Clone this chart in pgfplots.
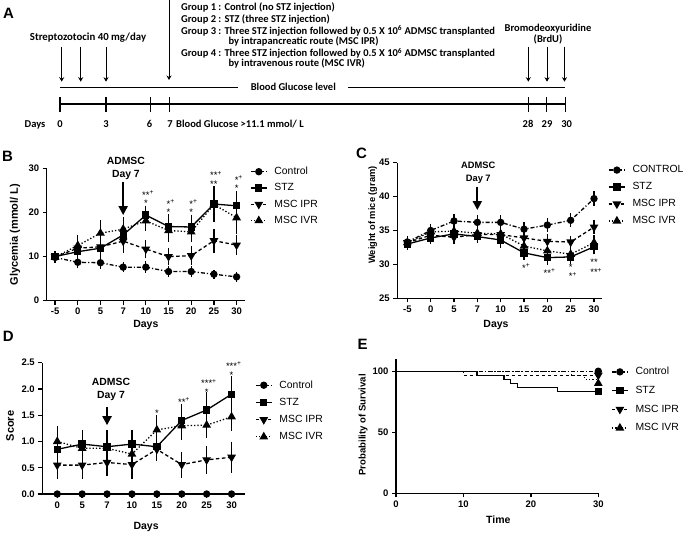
\documentclass[border=0pt]{standalone}
\usepackage{pgfplots}
\pgfplotsset{compat=1.18}
\usepackage{fontspec}
\setmainfont{Liberation Sans}
\newfontfamily\calibri{Carlito}
\usetikzlibrary{arrows.meta}
\newcommand{\sg}[2]{#1\rlap{\textsuperscript{#2}}}
\newcommand{\two}[3]{\shortstack{#1\\[#3]#2}}
\pgfplotsset{
  gp/.style={
    scale only axis, anchor=south west,
    axis lines*=left,
    axis line style={line width=1.3pt},
    tick align=outside,
    major tick length=4pt,
    tick style={line width=1.3pt, black},
    clip=false,
    /pgf/number format/assume math mode=true,
    tick label style={font=\bfseries\fontsize{9.5}{10}\selectfont},
    xlabel style={anchor=center},
    ylabel style={anchor=center},
    legend cell align=left,
    legend style={draw=none, fill=none, inner sep=0pt, anchor=north west,
      font=\fontsize{10.4}{12}\selectfont, column sep=5pt},
    legend image code/.code={\draw[##1, mark repeat=2, mark phase=2] plot coordinates {(0pt,0pt) (8pt,0pt) (16pt,0pt)};},
  },
  ctrl/.style={black, line width=1.3pt, dash pattern=on 4pt off 2pt on 1.2pt off 2pt, mark=*, mark size=3pt, mark options={solid}},
  stz/.style={black, line width=1.3pt, solid, mark=square*, mark size=3pt, mark options={solid}},
  ipr/.style={black, line width=1.3pt, dash pattern=on 3.5pt off 2.5pt, mark=triangle*, mark size=3.8pt, mark options={solid, rotate=180}},
  ivr/.style={black, line width=1.3pt, dash pattern=on 1.3pt off 2pt, mark=triangle*, mark size=3.8pt, mark options={solid}},
  eb/.style={error bars/.cd, y dir=both, y explicit, error bar style={solid, line width=1.2pt}, error mark options={mark size=3.5pt, line width=1.2pt, solid}},
}
\tikzset{star/.style={anchor=base, font=\fontsize{9.5}{9.5}\selectfont, inner sep=0pt},
  adm/.style={align=center, font=\bfseries\fontsize{10.4}{13.3}\selectfont, inner sep=0pt},
  admarrow/.style={line width=2pt, -{Triangle[length=9pt,width=9pt]}},
  plab/.style={font=\bfseries\fontsize{15}{15}\selectfont, inner sep=0pt}}
\begin{document}
\begin{tikzpicture}
\useasboundingbox (0,0) rectangle (685pt,534pt);
% ---------------- Panel A (schematic) ----------------
\begin{scope}[x=1pt, y=-1pt, yshift=534pt, font=\calibri\bfseries\fontsize{10.5}{11}\selectfont]
  \node[plab] at (8.5,13) {A};
  \node[anchor=base, font=\calibri\bfseries\fontsize{10.8}{11}\selectfont] at (88,40.2) {Streptozotocin 40 mg/day};
  \foreach \xx in {61.7,80.7,106} {\draw[line width=0.9pt, -{Stealth[length=4.5pt,width=5pt]}] (\xx,46.7) -- (\xx,81.7);}
  \draw[line width=0.9pt, -{Stealth[length=4.5pt,width=5pt]}] (169,-2) -- (169,80);
  \node[anchor=base west, inner sep=0pt] at (181,10.8) {Group 1 : Control (no STZ injection)};
  \node[anchor=base west, inner sep=0pt] at (181,22.5) {Group 2 : STZ (three STZ injection)};
  \node[anchor=base west, inner sep=0pt] at (181,34.5) {Group 3 : Three STZ injection followed by 0.5 X 10\textsuperscript{6} ADMSC transplanted};
  \node[anchor=base west, inner sep=0pt] at (228.3,45) {by intrapancreatic route (MSC IPR)};
  \node[anchor=base west, inner sep=0pt] at (181,57) {Group 4 : Three STZ injection followed by 0.5 X 10\textsuperscript{6} ADMSC transplanted};
  \node[anchor=base west, inner sep=0pt] at (228.3,67) {by intravenous route (MSC IVR)};
  \node[anchor=base] at (548,31.8) {Bromodeoxyuridine};
  \node[anchor=base] at (548,42.8) {(BrdU)};
  \foreach \xx in {528.3,547,564.5} {\draw[line width=0.9pt, -{Stealth[length=4.5pt,width=5pt]}] (\xx,46.7) -- (\xx,81.7);}
  \draw[line width=1.2pt] (60,87.5) -- (238,87.5);
  \draw[line width=1.2pt] (348,87.5) -- (564.5,87.5);
  \node[anchor=base] at (293.3,91) {Blood Glucose level};
  \draw[line width=1.2pt] (60,104) -- (565.7,104);
  \foreach \xx in {60,106,150.7,169.3,528.3,546.7,565.7} {\draw[line width=1.2pt] (\xx,97.3) -- (\xx,111.7);}
  \node[anchor=base] at (35,127.5) {Days};
  \node[anchor=base] at (60,127.5) {0};
  \node[anchor=base] at (106,127.5) {3};
  \node[anchor=base] at (149.5,127.5) {6};
  \node[anchor=base] at (170,127.5) {7};
  \node[anchor=base west, inner sep=0pt] at (176,127.5) {Blood Glucose >11.1 mmol/ L};
  \node[anchor=base] at (528,127.5) {28};
  \node[anchor=base] at (547,127.5) {29};
  \node[anchor=base] at (566.7,127.5) {30};
  \node[plab] at (7.5,156) {B};
  \node[plab] at (361.5,153.5) {C};
  \node[plab] at (8.3,336) {D};
  \node[plab] at (362.5,344) {E};
\end{scope}
% ---------------- Panel B ----------------
\begin{axis}[gp, at={(46.7pt,233.3pt)}, width=198.3pt, height=132.4pt,
  xmin=-0.37, xmax=8.37, ymin=0, ymax=30,
  xtick={0,...,8}, xticklabels={-5,0,5,7,10,15,20,25,30},
  ytick={0,10,20,30},
  xlabel={Days}, ylabel={Glycemia (mmol/ L)},
  xlabel style={at={(axis description cs:0.5,-0.1835)}, font=\bfseries\fontsize{10.5}{12}\selectfont},
  ylabel style={at={(axis description cs:-0.16,0.5)}, font=\bfseries\fontsize{11}{12}\selectfont},
  legend style={at={(1.025,1.025)}, row sep=3.5pt},
]
\addplot[ctrl, eb] table[x index=0, y index=1, y error index=2] {
0 9.8 0.4
1 8.7 0.4
2 8.6 0.6
3 7.6 0.4
4 7.6 0.5
5 6.6 0.5
6 6.6 0.5
7 6.0 0.2
8 5.4 0.4
};
\addplot[stz, eb] table[x index=0, y index=1, y error index=2] {
0 10.0 0.5
1 11.1 1.0
2 11.9 1.2
3 14.9 3.2
4 19.4 1.3
5 16.8 2.0
6 16.7 2.0
7 21.9 3.3
8 21.5 2.5
};
\addplot[ipr, eb] table[x index=0, y index=1, y error index=2] {
0 9.9 0.5
1 11.9 1.2
2 12.2 1.0
3 13.5 1.3
4 11.7 1.3
5 10.0 1.2
6 10.2 1.3
7 13.6 1.9
8 12.6 1.5
};
\addplot[ivr, eb] table[x index=0, y index=1, y error index=2] {
0 9.9 0.5
1 12.5 1.5
2 15.3 2.1
3 16.2 2.0
4 18.1 1.5
5 15.9 1.8
6 15.6 1.6
7 21.8 1.5
8 18.8 3.0
};
\legend{Control, STZ, MSC IPR, MSC IVR}
\node[adm] at (axis cs:3.12,30) {ADMSC\\Day 7};
\draw[admarrow] (axis cs:3,27) -- (axis cs:3,19.4);
\node[star] at (axis cs:4,21.3) {\two{\sg{**}{+}}{*}{-1.2pt}};
\node[star] at (axis cs:5,19.2) {\two{\sg{*}{+}}{*}{-1.2pt}};
\node[star] at (axis cs:6,19.3) {\two{\sg{*}{+}}{*}{-1.4pt}};
\node[star] at (axis cs:7,25.6) {\two{\sg{**}{+}}{**}{-0.8pt}};
\node[star] at (axis cs:8,24.7) {\two{\sg{*}{+}}{*}{-1.6pt}};
\end{axis}
% ---------------- Panel C ----------------
\begin{axis}[gp, at={(397.3pt,235.7pt)}, width=204.4pt, height=135.6pt,
  xmin=-0.43, xmax=8.33, ymin=25, ymax=45,
  xtick={0,...,8}, xticklabels={-5,0,5,7,10,15,20,25,30},
  ytick={25,30,35,40,45},
  xlabel={Days}, ylabel={Weight of mice (gram)},
  xlabel style={at={(axis description cs:0.483,-0.197)}, font=\bfseries\fontsize{10.5}{12}\selectfont},
  ylabel style={at={(axis description cs:-0.12,0.614)}, font=\bfseries\fontsize{9.3}{10}\selectfont},
  legend style={at={(1.031,0.994)}, row sep=4.2pt},
]
\addplot[ctrl, eb] table[x index=0, y index=1, y error index=2] {
0 33.3 0.4
1 35.0 0.5
2 36.4 0.5
3 36.2 0.5
4 36.2 0.5
5 35.2 0.5
6 35.8 0.5
7 36.5 0.5
8 39.7 0.6
};
\addplot[stz, eb] table[x index=0, y index=1, y error index=2] {
0 33.0 0.4
1 33.9 0.4
2 34.5 0.6
3 34.1 0.4
4 33.6 0.6
5 31.7 0.5
6 31.0 0.5
7 31.1 0.5
8 32.6 0.6
};
\addplot[ipr, eb] table[x index=0, y index=1, y error index=2] {
0 33.2 0.4
1 34.3 0.5
2 34.0 0.5
3 34.4 0.5
4 34.4 0.6
5 33.9 0.5
6 33.4 0.5
7 33.3 0.4
8 35.5 0.5
};
\addplot[ivr, eb] table[x index=0, y index=1, y error index=2] {
0 33.2 0.4
1 34.8 0.5
2 34.9 0.6
3 34.6 0.5
4 34.5 0.6
5 32.7 0.6
6 32.0 0.6
7 31.5 0.5
8 33.2 0.6
};
\legend{CONTROL, STZ, MSC IPR, MSC IVR}
\node[adm, font=\bfseries\fontsize{9.3}{13.3}\selectfont] at (axis cs:3.04,43.48) {ADMSC\\Day 7};
\draw[admarrow] (axis cs:3,41.46) -- (axis cs:3,38.02);
\node[star] at (axis cs:5,28.92) {\sg{*}{+}};
\node[star] at (axis cs:6,28.19) {\sg{**}{+}};
\node[star] at (axis cs:7,27.7) {\two{*}{\sg{*}{+}}{-1pt}};
\node[star] at (axis cs:8,29.91) {**};
\node[star] at (axis cs:8,28.29) {\sg{**}{+}};
\end{axis}
% ---------------- Panel D ----------------
\begin{axis}[gp, at={(42.3pt,40pt)}, width=202.7pt, height=131.3pt,
  xmin=-0.6, xmax=7.54, ymin=0, ymax=2.5,
  xtick={0,...,7}, xticklabels={0,5,7,10,15,20,25,30},
  ytick={0,0.5,1,1.5,2,2.5},
  yticklabel style={/pgf/number format/.cd, fixed, fixed zerofill, precision=1},
  xlabel={Days}, ylabel={Score},
  xlabel style={at={(axis description cs:0.512,-0.249)}, font=\bfseries\fontsize{10.5}{12}\selectfont},
  ylabel style={at={(axis description cs:-0.159,0.518)}, font=\bfseries\fontsize{11}{12}\selectfont},
  legend style={at={(1.049,0.8797)}, row sep=4.4pt},
]
\addplot[ctrl] table[x index=0, y index=1] {
0 0
1 0
2 0
3 0
4 0
5 0
6 0
7 0
};
\addplot[stz, eb] table[x index=0, y index=1, y error index=2] {
0 0.85 0.38
1 0.95 0.21
2 0.90 0.25
3 0.95 0.21
4 0.90 0.20
5 1.40 0.24
6 1.60 0.27
7 1.90 0.28
};
\addplot[ipr, eb] table[x index=0, y index=1, y error index=2] {
0 0.55 0.20
1 0.55 0.20
2 0.60 0.20
3 0.56 0.20
4 0.85 0.15
5 0.56 0.18
6 0.65 0.20
7 0.70 0.23
};
\addplot[ivr, eb] table[x index=0, y index=1, y error index=2] {
0 1.00 0.20
1 0.87 0.20
2 0.87 0.25
3 0.76 0.20
4 1.22 0.22
5 1.30 0.20
6 1.31 0.18
7 1.47 0.20
};
\legend{Control, STZ, MSC IPR, MSC IVR}
\node[adm] at (axis cs:2.16,1.99) {ADMSC\\Day 7};
\draw[admarrow] (axis cs:2,1.66) -- (axis cs:2,1.31);
\node[star] at (axis cs:4,1.47) {*};
\node[star] at (axis cs:5,1.69) {\sg{**}{+}};
\node[star] at (axis cs:6,1.875) {\two{\sg{***}{+}}{*}{-0.9pt}};
\node[star] at (axis cs:7,2.20) {\two{\sg{***}{+}}{*}{-0.4pt}};
\end{axis}
% ---------------- Panel E ----------------
\begin{axis}[gp, at={(396pt,40.7pt)}, width=202.3pt, height=134.3pt,
  xmin=0, xmax=30, ymin=0, ymax=110,
  xtick={0,10,20,30}, ytick={0,50,100},
  xlabel={Time}, ylabel={Probability of Survival},
  xlabel style={at={(axis description cs:0.506,-0.194)}, font=\bfseries\fontsize{10.5}{12}\selectfont},
  ylabel style={at={(axis description cs:-0.162,0.509)}, font=\bfseries\fontsize{9.6}{10}\selectfont},
  legend style={at={(1.063,0.954)}, row sep=5.9pt},
]
\addplot[ctrl, const plot, mark repeat=100, mark phase=2] coordinates {(0,100) (30,100)};
\addplot[stz, const plot, mark repeat=100, mark phase=7] coordinates {(0,100) (12,96.67) (16,93.33) (17,90) (18,86.67) (24,83.33) (30,83.33)};
\addplot[ipr, const plot, mark repeat=100, mark phase=3] coordinates {(0,100) (10,96.67) (30,96.67)};
\addplot[ivr, const plot, mark repeat=100, mark phase=5] coordinates {(0,100) (26,96.67) (28,93.33) (30,93.33) (30,90)};
\legend{Control, STZ, MSC IPR, MSC IVR}
\end{axis}
\end{tikzpicture}
\end{document}
